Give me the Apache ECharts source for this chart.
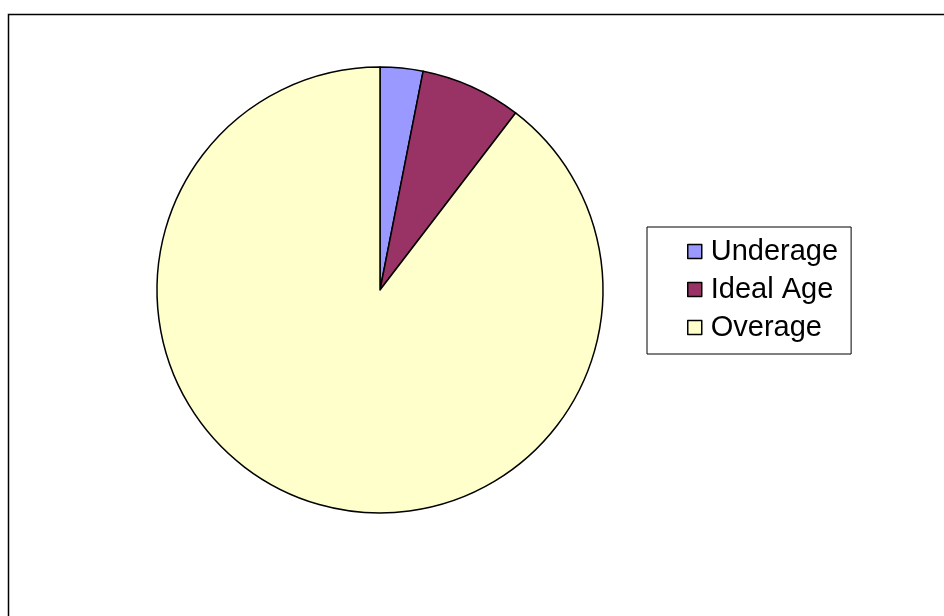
<!DOCTYPE html>
<html>
<head>
<meta charset="utf-8">
<script src="https://cdn.jsdelivr.net/npm/echarts@6/dist/echarts.min.js"></script>
<style>
  html, body { margin: 0; padding: 0; background: #fff; }
  #chart { width: 944px; height: 616px; }
</style>
</head>
<body>
<div id="chart"></div>
<script>
// Age groups and their shares (percent)
const categories = ['Underage', 'Ideal Age', 'Overage'];
const shares = [3.1, 7.3, 89.6];
const colors = ['#9999FF', '#993366', '#FFFFCC'];

const chart = echarts.init(document.getElementById('chart'), null, { renderer: 'canvas' });

const pieData = categories.map((name, i) => ({
  name: name,
  value: shares[i],
  itemStyle: { color: colors[i] }
}));

chart.setOption({
  animation: false,
  backgroundColor: '#ffffff',
  graphic: [{
    type: 'rect',
    shape: { x: 8.5, y: 14.5, width: 1000, height: 700 },
    style: { fill: 'none', stroke: '#000', lineWidth: 1.5 },
    silent: true
  }],
  legend: {
    orient: 'vertical',
    left: 647,
    top: 227,
    padding: [10, 13, 12, 40],
    itemGap: 9,
    itemWidth: 14,
    itemHeight: 14,
    icon: 'rect',
    borderColor: '#000',
    borderWidth: 1,
    borderRadius: 0,
    backgroundColor: '#fff',
    data: categories,
    itemStyle: { borderColor: '#000', borderWidth: 1.5 },
    textStyle: {
      fontFamily: 'Liberation Sans, Arial, sans-serif',
      fontSize: 29,
      lineHeight: 29,
      color: '#000',
      padding: [0, 0, 0, 4]
    },
    selectedMode: false
  },
  series: [{
    type: 'pie',
    center: [380, 290],
    radius: 223,
    startAngle: 90,
    clockwise: true,
    label: { show: false },
    labelLine: { show: false },
    emphasis: { disabled: true },
    itemStyle: { borderColor: '#000', borderWidth: 1.5 },
    data: pieData
  }]
});
</script>
</body>
</html>
